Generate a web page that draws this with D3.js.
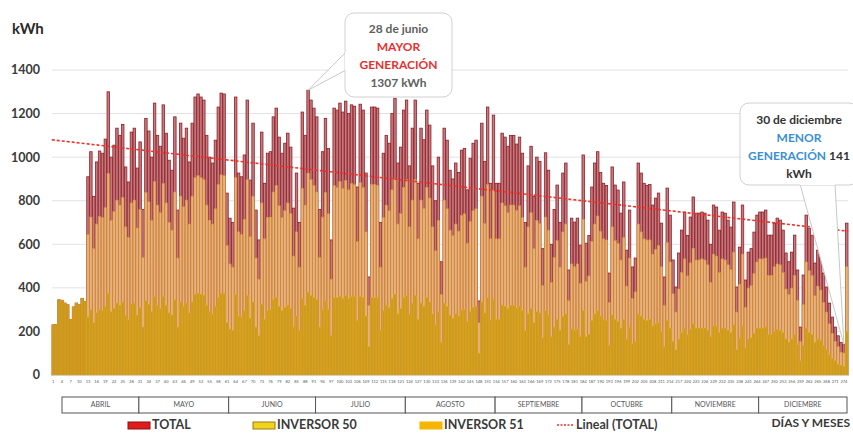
<!DOCTYPE html>
<html>
<head>
<meta charset="utf-8">
<script src="https://cdn.jsdelivr.net/npm/d3@7"></script>
<style>
  body { margin: 0; background: #fff; }
  svg { font-family: Lato, "Open Sans", sans-serif; }
</style>
</head>
<body>
<div id="chart"></div>
<script>
// daily generation, 1 abril .. 31 diciembre
const months = ["ABRIL", "MAYO", "JUNIO", "JULIO", "AGOSTO", "SEPTIEMBRE", "OCTUBRE", "NOVIEMBRE", "DICIEMBRE"];
const monthDays = [30, 31, 30, 31, 31, 30, 31, 30, 31];
const yTicks = [0, 200, 400, 600, 800, 1000, 1200, 1400];

const total = [
  // abril
  230,232,345,343,330,322,255,312,330,322,352,338,910,1025,820,978,1028,1018,1083,1300,1000,1055,1133,1100,1150,955,886,1115,1133,950,
  // mayo
  1070,760,1178,1120,1000,1248,1100,1050,1240,1110,986,940,1185,757,1156,1087,1133,978,1156,1276,1290,1276,1262,1100,1000,973,1078,1230,1294,1290,835,
  // junio
  720,700,1276,927,910,1010,1262,895,1156,757,620,1115,880,1018,1025,1185,1225,1092,1018,1064,1110,1046,766,927,700,1207,1100,1307,1262,1225,
  // julio
  1185,760,1025,1178,1040,620,1225,1216,1248,1207,1257,1200,1240,1234,863,1243,1216,927,450,1230,1230,1225,700,1018,1100,1064,1200,1270,973,1046,1216,
  // agosto
  1262,960,1133,1262,880,1133,1080,1216,1147,960,800,1000,520,1133,1078,940,900,973,930,1032,1040,850,995,1064,1078,340,1156,980,1230,880,1193,
  // septiembre
  880,880,1110,1092,1050,1100,1100,1060,1092,1018,700,960,1050,820,1000,980,580,1020,940,600,760,872,700,927,973,482,720,702,720,596,
  // octubre
  1010,605,640,863,973,1025,930,880,870,468,955,872,849,743,886,573,757,496,537,973,927,880,870,875,780,812,835,697,450,858,734,
  // noviembre
  528,404,560,665,748,640,725,817,743,743,748,743,711,600,780,771,665,748,743,711,679,794,404,587,780,436,564,580,656,734,
  // diciembre
  748,748,757,642,642,697,720,711,665,560,520,564,642,482,220,459,734,674,642,514,573,550,468,404,330,266,220,180,150,141,697
];

const inv50 = [
  0,0,0,0,0,0,0,0,0,0,0,0,645,725,580,693,728,723,768,925,710,750,803,780,815,680,631,790,803,675,
  760,540,838,795,710,888,780,745,880,790,701,665,840,537,821,772,803,693,821,906,915,906,897,780,710,693,763,875,919,915,595,
  510,495,906,657,645,715,897,635,821,537,440,790,625,723,725,840,870,777,723,754,790,741,546,657,495,857,780,927,897,870,
  840,540,725,838,740,440,870,861,888,857,892,850,880,874,613,883,861,657,320,875,875,870,495,723,780,754,850,900,693,741,861,
  897,680,803,897,625,803,765,861,812,680,570,710,370,803,763,665,640,693,660,732,740,605,705,754,763,240,821,695,875,625,848,
  625,625,790,777,745,780,780,755,777,723,495,680,745,580,710,695,410,725,665,425,540,617,495,657,693,342,510,497,510,421,
  715,430,455,613,693,730,660,625,620,333,680,617,604,528,631,408,537,351,382,693,657,625,620,620,555,577,595,497,320,608,519,
  373,289,395,470,533,455,515,582,528,528,533,528,506,425,555,546,470,533,528,506,484,564,289,417,555,311,399,410,466,519,
  533,533,537,457,457,497,510,506,470,395,370,399,457,342,155,324,519,479,457,364,408,390,333,289,235,191,155,130,105,101,497
];

const inv51 = [
  230,232,345,343,330,322,255,312,330,322,352,338,265,300,240,285,300,295,315,375,290,305,330,320,335,275,255,325,330,275,
  310,220,340,325,290,360,320,305,360,320,285,275,345,220,335,315,330,285,335,370,375,370,365,320,290,280,315,355,375,375,240,
  210,205,370,270,265,295,365,260,335,220,180,325,255,295,300,345,355,315,295,310,320,305,220,270,205,350,320,380,365,355,
  345,220,300,340,300,180,355,355,360,350,365,350,360,360,250,360,355,270,130,355,355,355,205,295,320,310,350,370,280,305,355,
  365,280,330,365,255,330,315,355,335,280,230,290,150,330,315,275,260,280,270,300,300,245,290,310,315,100,335,285,355,255,345,
  255,255,320,315,305,320,320,305,315,295,205,280,305,240,290,285,170,295,275,175,220,255,205,270,280,140,210,205,210,175,
  295,175,185,250,280,295,270,255,250,135,275,255,245,215,255,165,220,145,155,280,270,255,250,255,225,235,240,200,130,250,215,
  155,115,165,195,215,185,210,235,215,215,215,215,205,175,225,225,195,215,215,205,195,230,115,170,225,125,165,170,190,215,
  215,215,220,185,185,200,210,205,195,165,150,165,185,140,65,135,215,195,185,150,165,160,135,115,95,75,65,50,45,40,200
];

const W = 853, H = 433;
const margin = { top: 70, right: 5, bottom: 58, left: 52 };

const svg = d3.select("#chart")
  .append("svg")
  .attr("width", W)
  .attr("height", H);

const n = total.length;
const x = d3.scaleBand()
  .domain(d3.range(n))
  .range([margin.left, W - margin.right])
  .paddingInner(0.15);
const y = d3.scaleLinear()
  .domain([0, 1400])
  .range([H - margin.bottom, margin.top]);

const bw = x.bandwidth();

// grid
svg.append("g")
  .attr("class", "grid")
  .selectAll("line")
  .data(yTicks)
  .join("line")
  .attr("x1", x.range()[0])
  .attr("x2", x.range()[1])
  .attr("y1", d => y(d))
  .attr("y2", d => y(d))
  .attr("stroke", "#e2e2e2")
  .attr("stroke-width", 1);

// y axis labels
svg.append("g")
  .attr("class", "y-axis")
  .selectAll("text")
  .data(yTicks)
  .join("text")
  .attr("x", 40)
  .attr("y", d => y(d))
  .attr("dy", "0.35em")
  .attr("text-anchor", "end")
  .attr("font-size", 12.5)
  .attr("font-weight", 700)
  .attr("fill", "#3a3a3a")
  .text(d => d);

svg.append("text")
  .attr("x", 12)
  .attr("y", 34)
  .attr("font-size", 15)
  .attr("font-weight", 700)
  .attr("fill", "#2a2a2a")
  .text("kWh");

// bars: total behind, then inversor 50, then inversor 51
const bars = svg.append("g").attr("class", "bars");

bars.selectAll(".b-total")
  .data(total)
  .join("rect")
  .attr("class", "b-total")
  .attr("x", (d, i) => x(i))
  .attr("y", d => y(d))
  .attr("width", bw)
  .attr("height", d => y(0) - y(d))
  .attr("fill", "#c47a7f")
  .attr("stroke", "#8e1f26")
  .attr("stroke-width", 0.8);

bars.selectAll(".b-inv50")
  .data(inv50)
  .join("rect")
  .attr("class", "b-inv50")
  .attr("x", (d, i) => x(i))
  .attr("y", d => y(d))
  .attr("width", bw)
  .attr("height", d => y(0) - y(d))
  .attr("fill", "#e6b27f")
  .attr("stroke", "#d48c34")
  .attr("stroke-width", 0.6);

bars.selectAll(".b-inv51")
  .data(inv51)
  .join("rect")
  .attr("class", "b-inv51")
  .attr("x", (d, i) => x(i))
  .attr("y", d => y(d))
  .attr("width", bw)
  .attr("height", d => y(0) - y(d))
  .attr("fill", "#c99b26")
  .attr("stroke", "#e6a90c")
  .attr("stroke-width", 0.5);

// linear trend of TOTAL (least squares)
const idx = d3.range(n);
const mx = d3.mean(idx), my = d3.mean(total);
const slope = d3.sum(idx, i => (i - mx) * (total[i] - my)) / d3.sum(idx, i => (i - mx) * (i - mx));
const icpt = my - slope * mx;
const xi = i => x(0) + bw / 2 + i * x.step();

svg.append("line")
  .attr("class", "trend")
  .attr("x1", xi(-0.5))
  .attr("x2", xi(n - 0.5))
  .attr("y1", y(icpt + slope * -0.5))
  .attr("y2", y(icpt + slope * (n - 0.5)))
  .attr("stroke", "#f0302a")
  .attr("stroke-width", 1.6)
  .attr("stroke-dasharray", "3,2");

// x axis: day numbers every 3 days
const xAxis = d3.axisBottom(x)
  .tickValues(idx.filter(i => i % 3 === 0))
  .tickFormat(i => i + 1)
  .tickSize(0)
  .tickPadding(5);

svg.append("g")
  .attr("class", "x-axis")
  .attr("transform", "translate(0," + y(0) + ")")
  .call(xAxis)
  .call(g => g.select(".domain").attr("stroke", "#d0d0d0"))
  .call(g => g.selectAll("text").attr("font-size", 4).attr("fill", "#555").attr("font-family", "Lato"));

// month boxes
let start = 0;
const monthSpans = months.map((m, k) => {
  const s = start;
  start += monthDays[k];
  return { name: m, s: s, e: start };
});
const left = (d, k) => k === 0 ? x(d.s) + 10 : x(d.s);
const right = d => d.e < n ? x(d.e) : x.range()[1] - 1;
const boxTop = 397, boxH = 16;
const mg = svg.append("g").attr("class", "months");
mg.selectAll("rect")
  .data(monthSpans)
  .join("rect")
  .attr("x", (d, k) => left(d, k))
  .attr("y", boxTop)
  .attr("width", (d, k) => right(d) - left(d, k))
  .attr("height", boxH)
  .attr("fill", "#fff")
  .attr("stroke", "#555")
  .attr("stroke-width", 1);
mg.selectAll("text")
  .data(monthSpans)
  .join("text")
  .attr("x", (d, k) => (left(d, k) + right(d)) / 2)
  .attr("y", boxTop + boxH / 2)
  .attr("dy", "0.35em")
  .attr("text-anchor", "middle")
  .attr("font-size", 7)
  .attr("fill", "#555")
  .text(d => d.name);

// legend
const ly = 425;
const lg = svg.append("g").attr("class", "legend");
const legendItems = [
  { label: "TOTAL", x: 128, fill: "#e01b1b", stroke: "#8a1010" },
  { label: "INVERSOR 50", x: 253, fill: "#f2d21c", stroke: "#9a7a10" },
  { label: "INVERSOR 51", x: 420, fill: "#f7b500", stroke: "#f7b500" }
];
legendItems.forEach(it => {
  lg.append("rect")
    .attr("x", it.x).attr("y", ly - 3)
    .attr("width", 22).attr("height", 7)
    .attr("fill", it.fill).attr("stroke", it.stroke).attr("stroke-width", 1);
  lg.append("text")
    .attr("x", it.x + 24).attr("y", ly)
    .attr("dy", "0.35em")
    .attr("font-size", 12.5).attr("font-weight", 700).attr("fill", "#3a3a3a")
    .text(it.label);
});
lg.append("line")
  .attr("x1", 557).attr("x2", 574).attr("y1", ly).attr("y2", ly)
  .attr("stroke", "#f0302a").attr("stroke-width", 1.5).attr("stroke-dasharray", "2,1.5");
lg.append("text")
  .attr("x", 576).attr("y", ly).attr("dy", "0.35em")
  .attr("font-size", 12.5).attr("font-weight", 700).attr("fill", "#3a3a3a")
  .text("Lineal (TOTAL)");

svg.append("text")
  .attr("x", 850).attr("y", 423).attr("dy", "0.35em")
  .attr("text-anchor", "end")
  .attr("font-size", 12).attr("font-weight", 700).attr("fill", "#3a3a3a")
  .text("DÍAS Y MESES");

// callouts
const maxI = total.indexOf(d3.max(total));
const minI = total.indexOf(d3.min(total));

function callout(bx, by, bwid, bh, tip, base1, base2, lines) {
  const g = svg.append("g").attr("class", "callout");
  g.append("path")
    .attr("d", d3.line()([base1, tip, base2]))
    .attr("fill", "#fff")
    .attr("stroke", "#c8c8c8")
    .attr("stroke-width", 1);
  g.append("rect")
    .attr("x", bx).attr("y", by)
    .attr("width", bwid).attr("height", bh)
    .attr("rx", 9)
    .attr("fill", "#fff")
    .attr("stroke", "#d0d0d0")
    .attr("stroke-width", 1);
  // cover the wedge base
  g.append("path")
    .attr("d", d3.line()([base1, base2]))
    .attr("stroke", "#fff")
    .attr("stroke-width", 2);
  lines.forEach(l => {
    const t = g.append("text")
      .attr("x", bx + bwid / 2)
      .attr("y", l.y)
      .attr("text-anchor", "middle")
      .attr("font-size", 12)
      .attr("font-weight", 700);
    l.parts.forEach(p => t.append("tspan").attr("fill", p.c).text(p.t));
  });
}

callout(345, 13, 107, 84,
  [xi(maxI), y(total[maxI])], [346, 52], [346, 70],
  [
    { y: 33, parts: [{ t: "28 de junio", c: "#606060" }] },
    { y: 51, parts: [{ t: "MAYOR", c: "#e8312f" }] },
    { y: 69, parts: [{ t: "GENERACIÓN", c: "#e8312f" }] },
    { y: 87, parts: [{ t: "1307 kWh", c: "#606060" }] }
  ]);

callout(740, 103, 118, 82,
  [xi(minI), y(total[minI])], [800, 184], [835, 184],
  [
    { y: 124, parts: [{ t: "30 de diciembre", c: "#333" }] },
    { y: 142, parts: [{ t: "MENOR", c: "#3a8fd3" }] },
    { y: 160, parts: [{ t: "GENERACIÓN ", c: "#3a8fd3" }, { t: "141", c: "#333" }] },
    { y: 178, parts: [{ t: "kWh", c: "#333" }] }
  ]);
</script>
</body>
</html>
